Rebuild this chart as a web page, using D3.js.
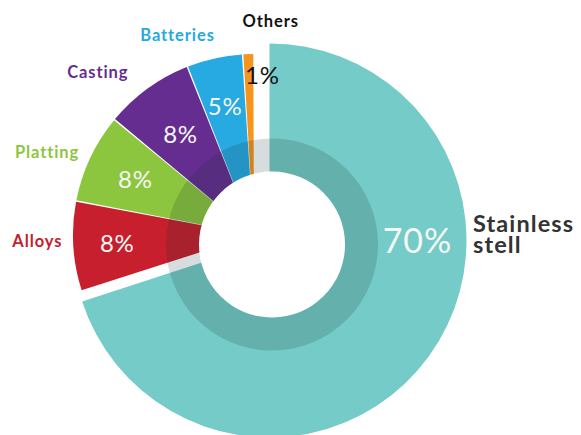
<!DOCTYPE html>
<html>
<head>
<meta charset="utf-8">
<script src="https://cdn.jsdelivr.net/npm/d3@7/dist/d3.min.js"></script>
<style>
  html, body { margin: 0; padding: 0; background: #ffffff; }
  svg { display: block; }
  text { font-family: "Lato", "Open Sans", sans-serif; }
</style>
</head>
<body>
<div id="chart"></div>
<script>
// Nickel end-use shares (percent)
const categories = ["Stainless stell", "Alloys", "Platting", "Casting", "Batteries", "Others"];
const shares = [70, 8, 8, 8, 5, 1];
const shareLabels = ["70%", "8%", "8%", "8%", "5%", "1%"];
const sliceColors = ["#74cbc7", "#c71f2d", "#8cc63f", "#662d91", "#27a9e1", "#f7941d"];
const nameColors = ["#333333", "#c41f2f", "#8cc63f", "#662d91", "#27a9e1", "#111111"];

const width = 581, height = 435;

// geometry of the layout
const bigCenter = [269.5, 240.5];   // centre of the dominant slice
const smallCenter = [254, 235];     // centre of the minor slices group
const holeCenter = [272, 244.5];    // centre of the hole and the shaded ring
const bigRadius = 197;
const smallRadius = 181;
const holeRadius = 73;
const ringRadius = 106;

// label placement: radius along the slice angle, plus small nudges
const pctRadius = [148, 137, 131, 125, 132, 160];
const pctNudge = [[0, 0], [0, 0], [0, 0], [0, 0], [0, 0], [-4, 0]];
const nameRadius = [203.5, 190, 191, 200, 198, 208];
const nameNudge = [[0, 0], [-2, 0], [-2, 4], [-8, 5], [4, -1], [-5, 0]];

const svg = d3.select("#chart").append("svg")
  .attr("width", width).attr("height", height);

const pie = d3.pie().sort(null).value(d => d.value)
  .startAngle(0).endAngle(2 * Math.PI);

const rows = categories.map((c, i) => ({
  name: c, value: shares[i], label: shareLabels[i],
  color: sliceColors[i], nameColor: nameColors[i], idx: i
}));
const arcs = pie(rows);

const bigArc = d3.arc().innerRadius(0).outerRadius(bigRadius);
const smallArc = d3.arc().innerRadius(0).outerRadius(smallRadius)
  .padAngle(0.008).padRadius(smallRadius);

// dominant slice
const gBig = svg.append("g").attr("transform", `translate(${bigCenter})`);
gBig.selectAll("path").data(arcs.slice(0, 1)).join("path")
  .attr("d", bigArc).attr("fill", d => d.data.color);

// minor slices
const gSmall = svg.append("g").attr("transform", `translate(${smallCenter})`);
gSmall.selectAll("path").data(arcs.slice(1)).join("path")
  .attr("d", smallArc).attr("fill", d => d.data.color);

// shaded inner ring and white hole
const gHole = svg.append("g").attr("transform", `translate(${holeCenter})`);
gHole.append("path")
  .attr("d", d3.arc().innerRadius(holeRadius).outerRadius(ringRadius)
    .startAngle(0).endAngle(2 * Math.PI)())
  .attr("fill", "rgba(20,45,45,0.17)");
gHole.append("circle").attr("r", holeRadius).attr("fill", "#ffffff");

function polar(r, a) { return [Math.sin(a) * r, -Math.cos(a) * r]; }
function midAngle(d) { return d.data.idx === 0 ? Math.PI / 2 : (d.startAngle + d.endAngle) / 2; }
function centerOf(d) { return d.data.idx === 0 ? bigCenter : smallCenter; }

// percentage labels
svg.append("g").selectAll("text").data(arcs).join("text")
  .attr("x", d => centerOf(d)[0] + polar(pctRadius[d.data.idx], midAngle(d))[0] + pctNudge[d.data.idx][0])
  .attr("y", d => centerOf(d)[1] + polar(pctRadius[d.data.idx], midAngle(d))[1] + pctNudge[d.data.idx][1])
  .attr("dy", "0.36em")
  .attr("text-anchor", d => d.data.idx === 5 ? "start" : "middle")
  .attr("font-size", d => d.data.idx === 0 ? 34 : 24)
  .attr("font-weight", 400)
  .attr("letter-spacing", d => d.data.idx === 0 ? 1 : 0.8)
  .attr("fill", d => d.data.idx === 5 ? "#111111" : "#f4f7f4")
  .text(d => d.data.label);

// category names; the two-word name is split over two lines
const nameLines = arcs.flatMap(d => {
  const words = d.data.idx === 0 ? d.data.name.split(" ") : [d.data.name];
  return words.map((w, i) => ({ arc: d, text: w, line: i }));
});

svg.append("g").selectAll("text").data(nameLines).join("text")
  .attr("transform", l => {
    const d = l.arc, c = centerOf(d), p = polar(nameRadius[d.data.idx], midAngle(d)), n = nameNudge[d.data.idx];
    return `translate(${c[0] + p[0] + n[0]},${c[1] + p[1] + n[1]})`;
  })
  .attr("y", l => l.arc.data.idx === 0 ? -8.5 + l.line * 20.5 : 0)
  .attr("text-anchor", l => (l.arc.data.idx === 0 || l.arc.data.idx === 5) ? "start" : "end")
  .attr("font-weight", 700)
  .attr("font-size", l => l.arc.data.idx === 0 ? 23.5 : 16.5)
  .attr("letter-spacing", l => l.arc.data.idx === 0 ? 1.1 : 0.9)
  .attr("fill", l => l.arc.data.nameColor)
  .text(l => l.text);
</script>
</body>
</html>
